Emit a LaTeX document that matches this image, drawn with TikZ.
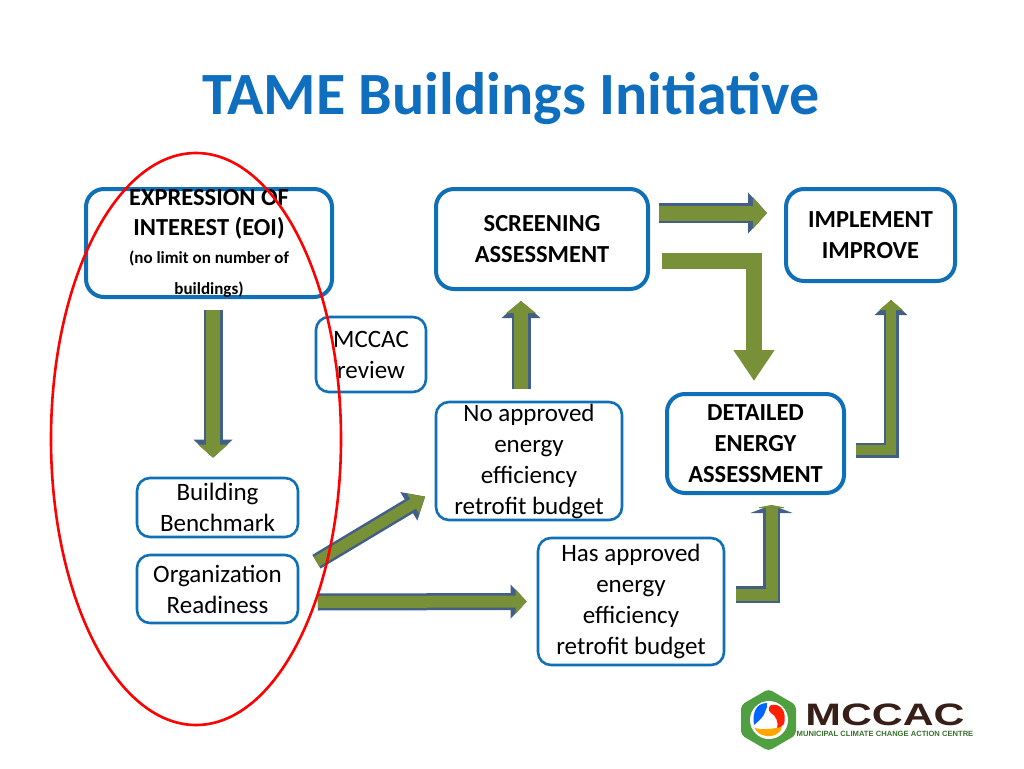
\documentclass[tikz,border=0pt]{standalone}
\usepackage{fontspec}
\setmainfont{Carlito}
\newfontfamily\logofont{Liberation Sans}
\usetikzlibrary{arrows.meta,shapes.geometric}
\definecolor{titleblue}{RGB}{15,111,190}
\definecolor{boxblue}{RGB}{15,111,183}
\definecolor{arrowgreen}{RGB}{120,144,56}
\definecolor{arrowblue}{RGB}{65,95,135}
\definecolor{logogreen}{RGB}{80,160,65}
\definecolor{logobrown}{RGB}{55,30,22}
\newcommand{\notesize}{\fontsize{17}{20}\selectfont}
\tikzset{
  bigbox/.style={draw=boxblue, line width=4pt, rounded corners=18pt, fill=white, align=center, inner sep=0pt, font=\fontsize{24.5}{31}\selectfont\bfseries},
  smallbox/.style={draw=boxblue, line width=2.6pt, rounded corners=13pt, fill=white, align=center, inner sep=0pt, font=\fontsize{25}{31}\selectfont},
  blockedge/.style n args={3}{
    preaction={draw=arrowblue, line width=#1pt, line join=miter, -{Triangle[length=#3pt,width=#2pt]}},
    draw=arrowgreen, line width=#1pt-5pt, line join=miter,
    -{Triangle[length=#3pt-5pt,width=#2pt-9pt]}, shorten >=3pt, shorten <=2.5pt},
  plainedge/.style={draw=arrowgreen, line width=16pt, line join=miter, -{Triangle[length=31pt,width=39pt]}}
}
\begin{document}
\begin{tikzpicture}[x=1pt, y=-1pt]
  \useasboundingbox (0,0) rectangle (1024,768);
  \node[text=titleblue, font=\fontsize{60}{60}\selectfont\bfseries] (title) at (511,98) {TAME Buildings Initiative};
  % boxes
  \node[bigbox, minimum width=246pt, minimum height=108pt] (eoi) at (209,243) {EXPRESSION OF\\[-1pt]INTEREST (EOI)\\[-3pt]\notesize (no limit on number of\\\notesize buildings)};
  \node[bigbox, minimum width=212pt, minimum height=100pt] (screen) at (542,239) {SCREENING\\ASSESSMENT};
  \node[bigbox, minimum width=169pt, minimum height=92pt] (implement) at (870.5,235) {IMPLEMENT\\IMPROVE};
  \node[bigbox, minimum width=177pt, minimum height=99pt] (detail) at (755.5,443.5) {DETAILED\\ENERGY\\ASSESSMENT};
  \node[smallbox, minimum width=110pt, minimum height=75pt] (review) at (371,354.5) {MCCAC\\review};
  \node[smallbox, minimum width=161pt, minimum height=59pt] (bench) at (217.5,507.5) {Building\\Benchmark};
  \node[smallbox, minimum width=161pt, minimum height=68pt] (ready) at (217.5,589) {Organization\\Readiness};
  \node[smallbox, minimum width=186pt, minimum height=118pt] (noapp) at (529,461) {No approved\\energy\\efficiency\\retrofit budget};
  \node[smallbox, minimum width=186pt, minimum height=127pt] (hasapp) at (631,601.5) {Has approved\\energy\\efficiency\\retrofit budget};
  % arrows
  \draw[blockedge={19}{38}{18}] ([xshift=4pt,yshift=-8pt]eoi.south) -- ([xshift=-4.5pt,yshift=16pt]bench.north);
  \draw[blockedge={16}{32}{19}] ([xshift=15pt,yshift=26pt]ready.east) -- ([xshift=-7pt,yshift=-34pt]noapp.west);
  \draw[blockedge={17}{33}{16}] ([xshift=16pt,yshift=-13pt]ready.east) -- ([xshift=-7pt]hasapp.west);
  \draw[blockedge={19}{38}{17}] ([xshift=-8pt,yshift=9pt]noapp.north) -- ([xshift=-21pt,yshift=-7pt]screen.south);
  \draw[blockedge={20}{40}{19}] ([xshift=6pt,yshift=26pt]screen.east) -- ([xshift=-14pt,yshift=22pt]implement.west);
  \draw[plainedge] ([xshift=12pt,yshift=-22pt]screen.east) -| ([xshift=-1.5pt,yshift=11pt]detail.north);
  \draw[blockedge={17}{42}{8}] ([xshift=8pt,yshift=7pt]hasapp.east) -| ([xshift=16pt,yshift=-7pt]detail.south);
  \draw[blockedge={15}{32}{15}] ([xshift=7pt,yshift=-6.5pt]detail.east) -| ([xshift=20.5pt,yshift=-14pt]implement.south);
  % red ring
  \node[ellipse, draw=red, line width=2.6pt, minimum width=290pt, minimum height=572pt, inner sep=0pt] (ring) at (196,439) {};
  % logo
  \fill[logogreen, rounded corners=4pt] (768.5,689) -- (796,705) -- (796,735) -- (768.5,751) -- (741,735) -- (741,705) -- cycle;
  \fill[white] (769,720) circle [radius=19];
  \fill[blue!60!cyan] (767,703) .. controls (756,703) and (752,713) .. (754,725) .. controls (760,720) and (764,716) .. (765,712) .. controls (766,709) and (768,706) .. cycle;
  \fill[red!75!orange] (771,705) .. controls (781,703) and (787,712) .. (784,724) .. controls (781,727) and (779,728) .. (777,729) .. controls (779,722) and (776,716) .. (771,713) .. controls (768,711) and (768,707) .. cycle;
  \fill[orange!70!yellow] (755,728) .. controls (762,730) and (771,729) .. (782,727) .. controls (780,735) and (772,737) .. (766,736) .. controls (760,735) and (756,732) .. cycle;
  \node[text=logobrown, font=\logofont\fontsize{31}{31}\selectfont\bfseries, xscale=1.38, transform shape, inner sep=0pt] (logoname) at (885,715) {MCCAC};
  \node[text=logogreen!70!black, font=\logofont\fontsize{7.6}{8}\selectfont\bfseries, inner sep=0pt] (logosub) at (885,733.5) {MUNICIPAL CLIMATE CHANGE ACTION CENTRE};
\end{tikzpicture}
\end{document}
